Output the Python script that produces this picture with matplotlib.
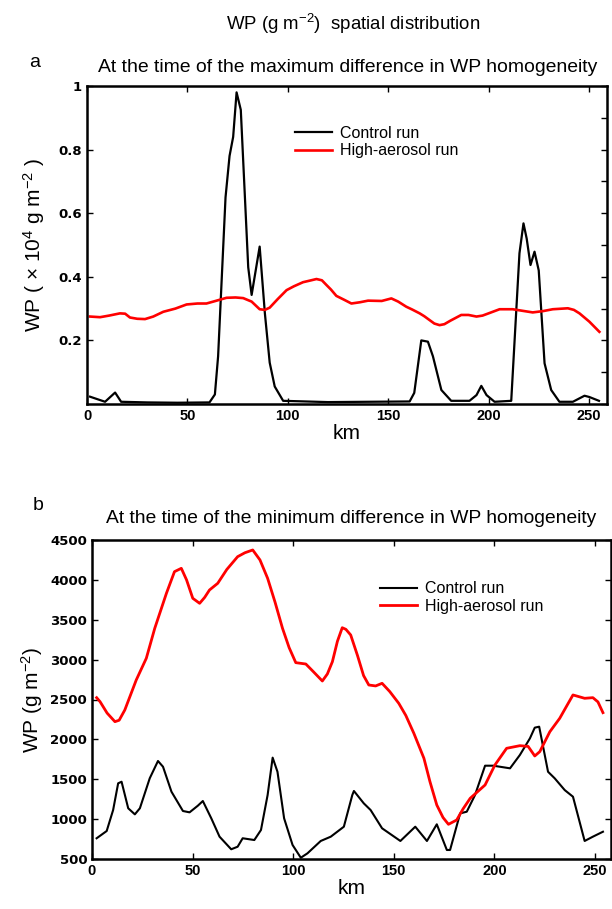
import matplotlib
matplotlib.use("Agg")
import matplotlib.pyplot as plt
from matplotlib.ticker import MultipleLocator, FixedLocator

# panel a: maximum difference (x 10^4 g m-2)
km_a_ctrl = [1.5, 9, 14, 17, 30, 45, 61, 63.7, 65.3, 69, 71, 72.8, 74.5, 76.6, 80.3, 82,
             86, 88.6, 91, 93.5, 97.7, 120, 140, 160.7, 163, 166.5, 169.8, 172.3, 176.5,
             181.4, 190.5, 194, 196.4, 199, 203, 211.3, 215.4, 217.4, 219, 220.9, 222.9,
             225, 227.9, 231.2, 235.3, 242, 247.8, 250.2, 255]
wp_a_ctrl = [0.023, 0.007, 0.036, 0.007, 0.005, 0.004, 0.005, 0.03, 0.15, 0.65, 0.78, 0.84,
             0.98, 0.925, 0.43, 0.343, 0.495, 0.285, 0.13, 0.055, 0.01, 0.006, 0.007,
             0.008, 0.035, 0.2, 0.196, 0.15, 0.044, 0.01, 0.01, 0.028, 0.057, 0.028,
             0.007, 0.01, 0.474, 0.568, 0.52, 0.437, 0.479, 0.42, 0.128, 0.044, 0.007,
             0.007, 0.026, 0.022, 0.01]
km_a_aer = [1.5, 6.5, 11, 16.4, 19, 21.4, 25, 28.9, 33, 38, 44, 49.6, 55, 59.5, 64, 69.5,
            74, 77.8, 82, 86, 88.6, 91, 95, 99.4, 103, 107.6, 111, 114.3, 117, 119.3,
            121.5, 124.2, 128, 131.7, 136, 140, 146.8, 151.6, 155, 159, 162, 165.7, 168,
            170.6, 173, 175.6, 178, 181, 186.4, 190, 194, 197, 200, 205.5, 212, 217, 222,
            227, 232, 239.5, 242.5, 245.3, 250.2, 255.2]
wp_a_aer = [0.275, 0.273, 0.278, 0.285, 0.284, 0.272, 0.268, 0.267, 0.275, 0.29, 0.3,
            0.313, 0.316, 0.316, 0.324, 0.334, 0.335, 0.333, 0.322, 0.298, 0.296, 0.303,
            0.33, 0.358, 0.37, 0.383, 0.388, 0.393, 0.389, 0.374, 0.36, 0.34, 0.328, 0.316,
            0.32, 0.325, 0.324, 0.332, 0.322, 0.306, 0.297, 0.285, 0.276, 0.264, 0.253,
            0.248, 0.251, 0.262, 0.28, 0.28, 0.275, 0.278, 0.285, 0.298, 0.298, 0.293,
            0.288, 0.292, 0.298, 0.301, 0.296, 0.285, 0.259, 0.227]

# panel b: minimum difference (g m-2)
km_b_ctrl = [2.3, 7.3, 10.5, 13, 14.7, 18, 21.3, 23.8, 28.7, 32.8, 35.3, 39.5, 45.2, 48.5,
             52.6, 55.1, 59.3, 63.4, 69.2, 72.4, 74.9, 80.7, 84, 87.3, 89.8, 92.2, 95.5,
             99.7, 103.8, 107.1, 113.7, 118.7, 125.2, 129.4, 130.2, 135.1, 138.5, 144.2,
             153.3, 160.7, 166.5, 171.4, 176.4, 178, 183, 186.3, 190.4, 195.4, 199.5,
             207.8, 212.7, 217.7, 220.1, 222.3, 226.7, 230, 235, 239.1, 244.9, 249, 254]
wp_b_ctrl = [760, 851, 1114, 1449, 1469, 1136, 1060, 1136, 1512, 1729, 1657, 1344, 1102,
             1085, 1168, 1227, 1010, 780, 622, 654, 760, 738, 864, 1302, 1771, 1594, 1010,
             676, 516, 571, 726, 780, 905, 1302, 1353, 1198, 1114, 885, 726, 905, 726, 935,
             613, 613, 1072, 1093, 1302, 1670, 1670, 1637, 1804, 2013, 2147, 2159, 1594,
             1512, 1364, 1281, 726, 780, 842]
km_b_aer = [2.3, 4, 7.5, 11.4, 13.5, 16.3, 22, 27, 31.2, 37, 41, 44.4, 47, 50.1, 53.5, 56,
            58.4, 62.5, 67, 72.4, 76, 79.9, 83.5, 87.3, 91, 94.7, 98, 101.3, 106.3, 110,
            114.5, 117, 119.5, 122, 124.4, 126.2, 128.6, 132, 135, 137.6, 141, 144.2, 148,
            152.5, 156, 160, 165, 168, 171.4, 174.5, 177.2, 181.3, 184.5, 188, 195.4, 200.3,
            206.1, 212.7, 216.8, 220.1, 222.6, 227.6, 232.5, 236, 239.1, 244.9, 249, 251.5,
            254]
wp_b_aer = [2523, 2473, 2330, 2222, 2240, 2368, 2745, 3017, 3393, 3832, 4103, 4145, 4000,
            3769, 3706, 3780, 3873, 3957, 4130, 4291, 4340, 4375, 4250, 4020, 3720, 3393,
            3150, 2962, 2945, 2850, 2732, 2820, 2974, 3230, 3400, 3380, 3309, 3050, 2800,
            2682, 2670, 2703, 2600, 2452, 2300, 2076, 1763, 1470, 1177, 1020, 935, 989,
            1130, 1261, 1428, 1679, 1888, 1921, 1912, 1792, 1846, 2096, 2264, 2420, 2557,
            2515, 2523, 2470, 2335]

xticks = [0, 50, 100, 150, 200, 250]
yticks_a = [0.2, 0.4, 0.6, 0.8, 1]
yticks_b = [500, 1000, 1500, 2000, 2500, 3000, 3500, 4000, 4500]

plain = ["Liberation Sans", "DejaVu Sans"]
plt.rcParams["mathtext.fontset"] = "custom"
plt.rcParams["mathtext.rm"] = "Liberation Sans"
plt.rcParams["mathtext.it"] = "Liberation Sans:italic"

W, H = 612, 909
fig = plt.figure(figsize=(W / 100, H / 100), dpi=100)
ax1 = fig.add_axes([87 / W, 1 - 404 / H, 520 / W, 318 / H])
ax2 = fig.add_axes([92 / W, 1 - 859 / H, 519 / W, 319 / H])

ax1.plot(km_a_ctrl, wp_a_ctrl, color="black", lw=1.6, label="Control run")
ax1.plot(km_a_aer, wp_a_aer, color="red", lw=1.9, label="High-aerosol run")
ax2.plot(km_b_ctrl, wp_b_ctrl, color="black", lw=1.5, label="Control run")
ax2.plot(km_b_aer, wp_b_aer, color="red", lw=2.0, label="High-aerosol run")

ax1.set_xlim(0, 259)
ax1.set_ylim(0, 1)
ax2.set_xlim(0, 258)
ax2.set_ylim(500, 4500)

for ax in (ax1, ax2):
    for s in ax.spines.values():
        s.set_linewidth(1.8)
    ax.set_xticks(xticks)
    ax.set_xticklabels([str(t) for t in xticks], family=plain, fontweight="bold", fontsize=10.5)
    ax.tick_params(which="both", direction="in", top=True, right=True, length=4, width=1)
    ax.set_xlabel("km", family=plain, fontsize=15, labelpad=1)

ax1.yaxis.set_major_locator(FixedLocator(yticks_a))
ax1.set_yticklabels(["0.2", "0.4", "0.6", "0.8", "1"], family="DejaVu Sans", fontweight="bold", fontsize=9.5)
ax1.yaxis.set_minor_locator(MultipleLocator(0.1))
ax1.tick_params(which="minor", left=False, right=True, length=4, width=1)
ax1.set_ylabel(r"WP ( $\times$ 10$^4$ g m$^{-2}$ )", family=plain, fontsize=15, labelpad=8)

ax2.set_yticks(yticks_b)
ax2.set_yticklabels([str(t) for t in yticks_b], family="DejaVu Sans", fontweight="bold", fontsize=9.5)
ax2.set_ylabel(r"WP (g m$^{-2}$)", family=plain, fontsize=15, labelpad=4)

leg_kw = dict(frameon=False, loc="upper left", borderpad=0, handlelength=2.3,
              handletextpad=0.5, labelspacing=0.15, prop={"family": plain, "size": 11.5})
ax1.legend(bbox_to_anchor=(0.385, 0.9), **leg_kw)
ax2.legend(bbox_to_anchor=(0.54, 0.895), **leg_kw)

sup = fig.text(226 / W, 1 - 30 / H, r"WP (g m$^{-2}$)  spatial distribution", family=plain,
               fontsize=14, ha="left", va="baseline")
fig.text(29 / W, 1 - 67 / H, "a", family=plain, fontsize=14, ha="left", va="baseline")
ta = fig.text(98 / W, 1 - 72 / H, "At the time of the maximum difference in WP homogeneity",
              family=plain, fontsize=14, ha="left", va="baseline")
fig.text(33 / W, 1 - 510 / H, "b", family=plain, fontsize=14, ha="left", va="baseline")
tb = fig.text(106 / W, 1 - 523 / H, "At the time of the minimum difference in WP homogeneity",
              family=plain, fontsize=14, ha="left", va="baseline")

# shrink the long titles so they span the same width as in the original
renderer = fig.canvas.get_renderer()
for t, width in ((sup, 256), (ta, 500), (tb, 492)):
    w = t.get_window_extent(renderer).width
    t.set_fontsize(t.get_fontsize() * width / w)

fig.savefig("out.png", dpi=100)
